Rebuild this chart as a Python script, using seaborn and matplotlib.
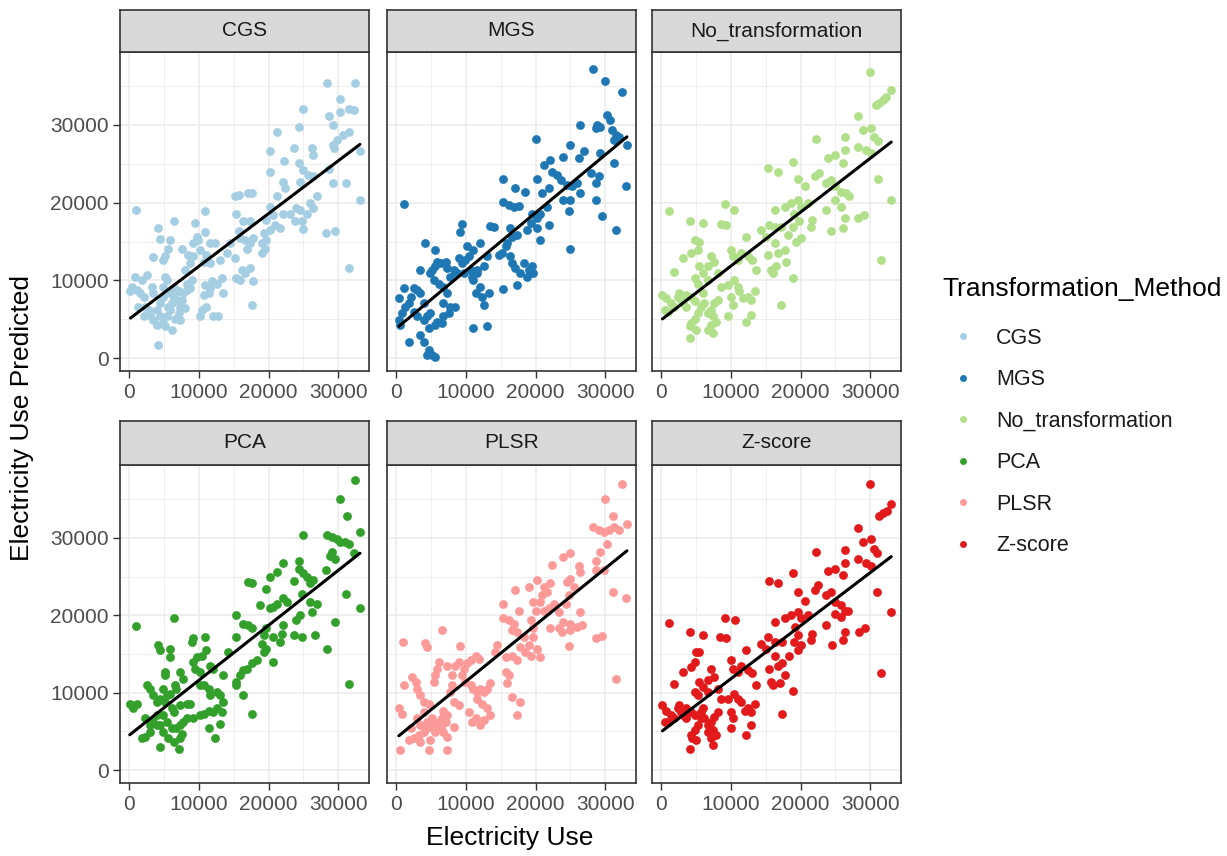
import numpy as np
import pandas as pd
import matplotlib
matplotlib.use("Agg")
import matplotlib.pyplot as plt
from matplotlib.lines import Line2D
from matplotlib.ticker import MultipleLocator
import seaborn as sns

sns.set_style("white")
plt.rcParams["font.family"] = ["Liberation Sans", "DejaVu Sans"]

methods = ["CGS", "MGS", "No_transformation", "PCA", "PLSR", "Z-score"]
palette = ["#A6CEE3", "#1F78B4", "#B2DF8A", "#33A02C", "#FB9A99", "#E31A1C"]

# (actual, predicted) electricity use for each transformation method
cgs_points = [
    (28400, 35400), (32400, 35400), (30200, 33300), (25000, 32100), (28700, 31200), (30300, 31700),
    (31500, 32100), (32200, 31900), (29200, 30000), (24300, 29800), (21200, 29100), (31500, 29100),
    (30700, 28700), (29800, 28100), (29300, 27400), (29400, 27000), (26200, 27000), (26400, 26100),
    (23600, 27000), (20200, 26600), (22200, 25400), (33100, 26600), (24300, 25100), (25000, 24200),
    (25700, 23600), (20200, 24000), (22100, 22700), (22400, 21900), (21200, 20800), (26400, 23400),
    (24500, 22700), (28600, 24400), (29300, 22600), (31100, 22600), (33100, 20400), (26900, 20800),
    (26000, 19900), (26400, 19300), (25500, 18600), (24000, 19300), (24500, 19100), (23100, 18600),
    (22100, 18600), (23800, 17600), (24800, 17600), (25000, 16600), (28300, 16100), (29500, 16300),
    (31500, 11600), (20200, 19500), (20700, 18400), (19700, 17800), (20900, 17100), (21700, 16700),
    (20200, 16500), (19300, 16100), (19700, 15200), (19000, 14800), (19500, 14100), (19000, 13500),
    (17800, 15400), (17400, 14800), (16900, 14100), (16600, 15200), (16400, 17600), (15700, 16400),
    (15400, 18600), (15200, 20900), (15700, 21000), (17100, 21200), (17600, 21200), (17400, 17600),
    (15900, 15400), (14500, 14800), (15200, 12900), (14000, 13500), (13000, 12600), (12300, 14800),
    (11600, 14800), (10900, 18900), (10900, 16200), (9700, 15600), (9200, 14800), (9500, 17400),
    (9900, 15200), (10200, 13900), (11100, 13300), (11600, 12200), (10700, 12400), (9200, 13200),
    (8700, 12300), (8500, 13300), (7600, 14000), (8000, 11400), (6400, 17700), (5900, 15200),
    (5600, 14100), (5200, 13100), (4900, 12600), (4200, 16700), (4400, 15300), (3400, 13000),
    (1000, 19100), (17800, 9900), (17400, 11600), (16600, 10900), (16200, 11400), (15400, 10300),
    (15900, 10100), (13300, 10300), (13500, 8400), (12600, 9600), (11900, 9900), (11600, 9000),
    (11400, 8400), (10900, 9400), (10700, 8100), (11100, 6600), (10400, 6200), (10200, 5400),
    (12100, 5400), (12800, 5400), (17600, 6800), (9000, 10100), (8700, 9000), (8300, 8800),
    (7800, 8400), (7600, 7500), (7300, 6600), (8000, 6400), (7100, 5800), (7300, 4900),
    (6800, 7500), (6400, 7900), (6100, 7100), (5600, 6600), (5400, 10100), (5200, 10500),
    (4900, 9200), (4900, 7900), (4400, 7100), (4000, 6200), (3500, 8400), (3300, 9200),
    (2500, 10700), (1800, 10100), (900, 10400), (400, 9200), (200, 8600), (1100, 8800),
    (1600, 8400), (2100, 7900), (2300, 6600), (2800, 6200), (3000, 5600), (3500, 4900),
    (4000, 4300), (4400, 5400), (4900, 4500), (5200, 4100), (6100, 3600), (4200, 1700),
    (2100, 5400), (1300, 6600), (5900, 6200), (6600, 5100), (5400, 5400), (6400, 9000),
    (7100, 8600), (8300, 9600), (5900, 8400),
]

mgs_points = [
    (28200, 37200), (30000, 35600), (32400, 34200), (30300, 31300), (30700, 30600), (26400, 30000),
    (28600, 29600), (29300, 29800), (28800, 30000), (31000, 29400), (31500, 28700), (31900, 28500),
    (33100, 27400), (31200, 28100), (20000, 28200), (25000, 27400), (24000, 25900), (26900, 26600),
    (26200, 25700), (29300, 26400), (31200, 25100), (21200, 24900), (22100, 25500), (22400, 24000),
    (23100, 23600), (23600, 22900), (20200, 23100), (15400, 23100), (17100, 21900), (18500, 21400),
    (20900, 21300), (21900, 21900), (24500, 22300), (25200, 22100), (26000, 22500), (26400, 21200),
    (27900, 23800), (29100, 23400), (28600, 22500), (32900, 22100), (24000, 20400), (25000, 20400),
    (24800, 18900), (28600, 20300), (29500, 18300), (31600, 16500), (24900, 14100), (15400, 20100),
    (16200, 19700), (16900, 19500), (17600, 19600), (19500, 18600), (20200, 18000), (20700, 18600),
    (21700, 19500), (21900, 17100), (19300, 17400), (18800, 16500), (20200, 16700), (20700, 15200),
    (17400, 15900), (16400, 16700), (16600, 15600), (15900, 14800), (15700, 14400), (14000, 16900),
    (13500, 17000), (9500, 17300), (9200, 16200), (12100, 14800), (14700, 13300), (15200, 13500),
    (16400, 13100), (16600, 12200), (17100, 11600), (17800, 10900), (17400, 9400), (15400, 8900),
    (18300, 12200), (19000, 11400), (19500, 11800), (19700, 10900), (18800, 10500), (13000, 13100),
    (12600, 11800), (11100, 13900), (10400, 13100), (10200, 14400), (9900, 12600), (9500, 12200),
    (9000, 12900), (11600, 10900), (11100, 10100), (11400, 8400), (12100, 9200), (12300, 7900),
    (12600, 6900), (13300, 8400), (11100, 3900), (13000, 4100), (10700, 11400), (9700, 10900),
    (8700, 10900), (8300, 11400), (7800, 10500), (7300, 11600), (7100, 12400), (6400, 12200),
    (5900, 12400), (5600, 11800), (5200, 11400), (5600, 13900), (4200, 14800), (3400, 11400),
    (4900, 10900), (5400, 10100), (6100, 9600), (6800, 9200), (7300, 8400), (6800, 7100),
    (7800, 6600), (8500, 6600), (7600, 5800), (6800, 5400), (6600, 4500), (5900, 4700),
    (5600, 4300), (4900, 5800), (4400, 5400), (4000, 7100), (3500, 8400), (3000, 8800),
    (2500, 9000), (2100, 7900), (1800, 7100), (1300, 6600), (900, 5800), (400, 4900),
    (600, 4300), (1100, 9000), (400, 7700), (2500, 6000), (3000, 5400), (4000, 4900),
    (4700, 3900), (1800, 2100), (3500, 3000), (4000, 2100), (4400, 400), (5200, 400),
    (5600, 200), (4700, 1100), (1100, 19800), (11600, 11400), (10900, 10500),
]

notrans_points = [
    (29900, 36800), (33000, 34500), (32300, 33600), (31800, 33200), (31300, 32800), (30800, 32600),
    (28300, 31200), (28900, 29400), (30100, 29600), (30600, 28500), (31100, 27900), (28200, 27200),
    (29400, 26800), (30100, 26400), (22200, 28200), (26300, 28400), (26300, 26800), (26100, 25100),
    (24900, 26100), (23900, 25700), (18900, 25200), (15300, 24500), (16700, 24000), (19600, 23100),
    (20600, 22100), (22000, 23400), (22700, 23800), (23700, 22500), (24400, 22900), (24900, 22100),
    (25800, 21400), (26500, 21200), (27000, 20800), (31100, 23000), (32900, 20400), (24900, 20400),
    (25800, 19500), (26300, 18000), (26100, 16700), (23700, 19100), (21700, 17800), (21500, 16900),
    (24400, 16300), (28200, 18000), (29100, 18400), (31500, 12600), (16300, 19100), (17700, 19500),
    (18600, 19900), (19600, 20400), (20100, 19500), (21000, 19900), (19100, 18600), (19800, 17600),
    (18900, 16900), (18200, 15900), (19400, 15000), (20100, 15400), (17200, 16900), (16300, 16900),
    (15500, 17100), (14300, 16500), (15100, 15600), (16300, 14800), (16700, 13500), (15300, 13300),
    (17700, 13900), (17900, 12400), (16500, 11800), (15800, 11400), (16000, 10900), (18900, 10300),
    (17200, 6900), (12200, 15600), (9100, 19800), (10500, 19100), (8600, 17300), (9300, 17100),
    (6000, 17400), (4100, 17700), (4800, 15200), (5500, 15000), (5300, 13900), (4300, 13500),
    (3100, 12900), (1900, 11100), (1100, 18900), (10000, 13900), (10300, 13100), (11000, 12600),
    (11500, 13500), (12400, 13100), (13100, 12600), (13600, 11400), (7200, 13100), (7600, 12400),
    (6700, 11800), (6000, 10900), (5500, 11800), (4800, 10300), (5300, 9600), (6700, 10100),
    (8100, 10900), (8600, 9200), (9600, 9400), (10500, 10100), (11000, 9200), (11200, 8600),
    (11700, 7700), (12400, 7900), (13400, 8600), (12900, 7500), (12900, 5600), (12200, 4700),
    (10000, 7900), (10300, 6900), (9600, 5400), (8100, 7500), (7600, 7100), (7200, 6200),
    (6700, 5800), (7400, 5400), (7900, 4700), (7200, 4300), (7400, 3200), (6700, 3600),
    (5700, 6600), (5300, 5800), (4800, 5100), (4300, 4500), (4100, 2600), (3600, 6600),
    (2900, 7500), (2400, 7900), (1900, 6600), (1400, 7100), (1000, 6000), (500, 6200),
    (200, 8100), (700, 7700), (2600, 8400), (3100, 7100), (3600, 8100), (4300, 7900),
    (4800, 7300), (6000, 8400), (6200, 7100), (4100, 4100), (5000, 3600),
]

pca_points = [
    (32400, 37500), (30200, 35000), (31300, 32800), (25000, 30400), (33100, 30700), (28400, 30400),
    (29100, 30100), (29800, 29900), (30300, 29500), (31000, 29400), (31500, 29200), (32200, 28000),
    (29100, 28200), (28800, 27700), (29500, 27300), (22100, 26800), (21200, 25600), (20200, 24900),
    (24300, 27000), (24300, 26000), (25000, 25400), (25500, 24900), (26400, 24500), (26000, 24100),
    (23600, 24400), (17100, 24300), (17600, 24200), (19700, 23400), (28300, 25800), (31100, 22800),
    (33100, 20900), (29500, 19100), (28400, 15600), (31500, 11100), (22100, 22200), (22600, 21700),
    (21200, 21500), (20700, 21100), (20200, 20900), (18800, 21300), (24800, 22800), (26000, 21700),
    (26900, 21500), (26200, 20400), (24500, 20000), (24000, 19400), (23600, 17400), (24800, 17200),
    (26700, 17400), (19700, 18300), (20700, 17200), (22100, 18700), (21900, 17600), (21700, 16600),
    (19300, 17400), (19000, 16300), (19700, 15700), (19300, 15300), (20700, 14000), (15400, 20000),
    (16400, 18900), (17100, 18700), (17600, 18300), (15400, 17200), (14200, 15300), (13500, 12300),
    (18300, 14200), (17600, 13800), (16900, 13100), (16400, 12900), (15900, 12300), (15400, 11400),
    (15400, 11000), (16400, 9700), (17600, 7200), (6400, 19600), (1000, 18600), (9200, 17100),
    (9000, 16600), (10900, 17200), (11100, 15500), (10400, 14800), (9700, 14600), (9200, 14000),
    (9500, 13100), (10200, 12700), (11600, 13500), (12100, 13100), (4200, 16100), (4400, 15500),
    (5900, 15700), (5900, 14600), (5200, 12700), (5200, 12300), (7300, 12700), (7800, 11800),
    (6600, 11000), (6800, 10500), (5900, 9900), (5400, 9700), (4900, 10500), (2500, 11000),
    (3000, 10500), (3500, 9700), (4000, 8800), (4400, 9200), (5200, 8800), (6100, 8000),
    (6400, 7500), (7300, 8400), (8300, 8600), (8700, 8600), (10200, 11000), (10700, 11000),
    (11400, 10500), (11600, 9700), (12600, 10100), (13000, 9700), (13500, 8800), (12600, 8000),
    (12100, 7500), (11400, 7700), (10700, 7300), (10200, 7100), (13300, 7500), (13000, 6000),
    (11400, 5400), (12300, 4100), (9200, 6700), (8300, 6700), (7800, 6200), (7300, 5800),
    (6800, 5400), (7600, 4700), (7300, 4100), (7100, 2800), (6400, 3700), (5600, 4100),
    (4900, 4900), (4400, 3000), (4000, 5800), (3500, 6200), (3000, 5800), (2300, 6700),
    (1800, 4100), (2300, 4300), (3000, 4900), (100, 8600), (600, 8000), (1100, 8600),
    (4000, 7100), (4900, 7100), (5400, 6200), (6100, 5400), (4400, 5800),
]

plsr_points = [
    (32400, 37000), (30000, 35000), (31100, 32800), (33100, 31800), (28300, 31400), (29100, 31000),
    (29800, 30700), (30500, 31000), (31200, 31400), (31900, 31000), (30300, 29200), (29300, 28200),
    (28600, 27000), (25000, 28000), (24000, 27500), (22400, 26500), (26200, 26400), (26400, 25600),
    (25000, 24700), (24500, 24300), (25500, 23700), (24800, 22600), (28600, 25800), (29800, 25800),
    (31100, 23000), (32900, 22200), (20200, 24500), (19000, 23700), (17100, 23300), (21200, 23700),
    (22100, 24100), (21700, 23000), (20900, 22600), (20700, 21700), (19700, 21700), (20000, 20600),
    (21200, 20600), (21900, 20900), (22600, 21500), (23300, 20400), (24300, 21500), (26400, 20400),
    (24000, 19100), (25000, 18900), (26000, 18500), (26700, 18700), (22100, 18300), (23300, 18300),
    (23800, 17800), (25000, 18100), (24800, 16000), (28600, 17100), (29500, 17300), (31600, 11800),
    (15400, 21400), (17600, 20600), (15400, 19600), (16200, 19400), (16900, 18900), (16600, 18100),
    (17400, 17800), (19300, 19400), (19700, 18300), (19700, 17200), (18300, 17200), (17800, 15900),
    (18500, 15300), (19300, 14800), (20700, 14600), (20200, 15700), (19000, 16100), (17400, 14200),
    (16600, 14800), (15700, 14600), (14500, 16100), (14200, 15300), (15700, 12700), (16200, 12300),
    (15900, 11200), (16600, 9500), (17800, 8800), (17400, 7100), (6600, 18100), (1000, 16500),
    (4200, 16400), (4400, 15900), (9200, 16000), (11400, 14800), (11900, 14400), (10700, 14200),
    (10200, 13800), (9700, 13100), (9000, 14000), (8500, 13500), (7300, 13500), (6100, 14000),
    (5900, 13100), (5600, 12300), (5400, 11400), (2300, 12000), (2800, 11400), (3000, 10500),
    (3500, 9700), (4000, 8800), (4700, 8600), (1100, 11000), (8000, 12300), (9500, 12300),
    (9900, 11400), (8000, 11000), (7800, 10100), (8300, 8800), (9000, 8400), (13500, 11200),
    (13000, 10500), (12600, 10100), (12100, 10500), (11600, 10100), (11100, 10500), (10700, 11000),
    (11600, 9200), (12300, 8600), (13000, 8000), (13500, 7100), (12600, 6500), (12100, 5800),
    (11400, 6700), (10900, 6200), (10400, 7500), (400, 8000), (900, 7300), (6800, 7700),
    (7300, 7100), (6600, 6700), (6100, 6200), (5600, 5800), (5200, 5600), (4400, 5400),
    (4000, 4900), (3300, 4500), (2500, 4100), (1800, 3900), (3500, 3700), (4900, 3900),
    (5600, 4900), (6800, 4900), (7300, 4300), (6400, 5600), (5200, 6700), (4400, 6200),
    (3500, 5800), (3000, 6700), (4000, 7500), (2100, 5400), (600, 2600), (4700, 2600),
    (7300, 2600), (8300, 5600), (7100, 6200),
]

zscore_points = [
    (29900, 37000), (33000, 34400), (32400, 33500), (31800, 33200), (31200, 32800), (28300, 31300),
    (28900, 29500), (30100, 29800), (30600, 28600), (31000, 28000), (28200, 27200), (29400, 26800),
    (30100, 26400), (22200, 28200), (26300, 28400), (26300, 26800), (26100, 25200), (24900, 26000),
    (23900, 25700), (18900, 25400), (15500, 24400), (16700, 24200), (19600, 23000), (20600, 21900),
    (22000, 23200), (22500, 23900), (23700, 22600), (24400, 23000), (24900, 21700), (25800, 21300),
    (26300, 20600), (26800, 20600), (31000, 23000), (32900, 20400), (24900, 20200), (25800, 19800),
    (26300, 17800), (26100, 16800), (23700, 18800), (21700, 17600), (21500, 16800), (24500, 16200),
    (28400, 17900), (29200, 18400), (31500, 12500), (16300, 19100), (17700, 19700), (18600, 20000),
    (19600, 20400), (20100, 19600), (21000, 20000), (19200, 18500), (19600, 17400), (19100, 16600),
    (18400, 14800), (19600, 15500), (20100, 16100), (17400, 16600), (16300, 16600), (15300, 17200),
    (14300, 16300), (15100, 15700), (16300, 14800), (16700, 13500), (15500, 13100), (17400, 13800),
    (17700, 12300), (15800, 11400), (16000, 11000), (17000, 11200), (18900, 10200), (17300, 7200),
    (12200, 15500), (9100, 19700), (10600, 19400), (8500, 17200), (9300, 17000), (6000, 17400),
    (4200, 17800), (5000, 15300), (5500, 15300), (4800, 14000), (4300, 13300), (3100, 12700),
    (1900, 11100), (1100, 19000), (10000, 14200), (10300, 13100), (11000, 12700), (11500, 13500),
    (12400, 12900), (13100, 12500), (13600, 11000), (7200, 13100), (7600, 12000), (6700, 11600),
    (6000, 10800), (5500, 11400), (4800, 10100), (5300, 9700), (6700, 10100), (8100, 10500),
    (8600, 9200), (9600, 9200), (10500, 9900), (11000, 9200), (11500, 8800), (12000, 7700),
    (12400, 8000), (13400, 8600), (12900, 7500), (12900, 5800), (12200, 4600), (10000, 7500),
    (10300, 6700), (10000, 5500), (8100, 7500), (7600, 6900), (7200, 6200), (6700, 5800),
    (7400, 5200), (7900, 4500), (7200, 4100), (7400, 3200), (4100, 2700), (5700, 6700),
    (5300, 5800), (4800, 5200), (4300, 4500), (3600, 6700), (2900, 7500), (2400, 8000),
    (1900, 6700), (1400, 7100), (1000, 6200), (500, 6200), (200, 8400), (700, 7700),
    (2600, 8400), (3100, 7100), (3600, 8000), (4300, 7500), (4800, 7100), (6000, 8000),
    (6200, 6700), (4500, 4100), (5000, 3900), (6700, 4900), (5700, 7500),
]

point_sets = [cgs_points, mgs_points, notrans_points, pca_points, plsr_points, zscore_points]

frames = []
for name, pts in zip(methods, point_sets):
    arr = np.array(pts, dtype=float)
    frames.append(pd.DataFrame({"Electricity_Use": arr[:, 0],
                                "Electricity_Use_Predicted": arr[:, 1],
                                "Transformation_Method": name}))
data = pd.concat(frames, ignore_index=True)

W, H = 1227, 856
fig = plt.figure(figsize=(W / 100, H / 100), dpi=100)

col_left = [120, 387, 652]
panel_w = 249
rows = [(10, 52, 371), (421, 465, 783)]  # strip top, panel top, panel bottom (pixels)

border = "#333333"
grid_c = "#EBEBEB"
tick_c = "#4D4D4D"

for i, (name, color) in enumerate(zip(methods, palette)):
    r, c = divmod(i, 3)
    s_top, p_top, p_bot = rows[r]
    left = col_left[c]
    ax = fig.add_axes([left / W, 1 - p_bot / H, panel_w / W, (p_bot - p_top) / H])
    sub = data[data["Transformation_Method"] == name]
    sns.scatterplot(data=sub, x="Electricity_Use", y="Electricity_Use_Predicted",
                    color=color, s=40, linewidth=0, ax=ax, zorder=2)
    sns.regplot(data=sub, x="Electricity_Use", y="Electricity_Use_Predicted",
                scatter=False, ci=None, color="black", ax=ax,
                line_kws={"lw": 2.2, "zorder": 3})
    ax.set_xlim(-1300, 34400)
    ax.set_ylim(-1650, 39390)
    ax.xaxis.set_major_locator(MultipleLocator(10000))
    ax.xaxis.set_minor_locator(MultipleLocator(5000))
    ax.yaxis.set_major_locator(MultipleLocator(10000))
    ax.yaxis.set_minor_locator(MultipleLocator(5000))
    ax.set_axisbelow(True)
    ax.grid(which="major", color=grid_c, lw=1.1)
    ax.grid(which="minor", color=grid_c, lw=0.6)
    ax.set_xlabel("")
    ax.set_ylabel("")
    for sp in ax.spines.values():
        sp.set_color(border)
        sp.set_linewidth(1.2)
    ax.tick_params(which="minor", length=0)
    ax.tick_params(axis="x", which="major", direction="out", length=5, width=1.0,
                   color=border, labelcolor=tick_c, labelsize=15, pad=4, bottom=True)
    if c == 0:
        ax.tick_params(axis="y", which="major", direction="out", length=5, width=1.0,
                       color=border, labelcolor=tick_c, labelsize=15, pad=3, left=True)
    else:
        ax.tick_params(axis="y", which="major", length=0, labelleft=False)

    # facet strip
    sax = fig.add_axes([left / W, 1 - p_top / H, panel_w / W, (p_top - s_top) / H])
    sax.set_facecolor("#D9D9D9")
    sax.set_xticks([])
    sax.set_yticks([])
    for sp in sax.spines.values():
        sp.set_color(border)
        sp.set_linewidth(1.2)
    sax.text(0.5, 0.5, name, ha="center", va="center", fontsize=15,
             color="#1A1A1A", transform=sax.transAxes)

fig.text(510 / W, 1 - 838 / H, "Electricity Use", ha="center", va="center",
         fontsize=19, color="black")
fig.text(22 / W, 1 - 418 / H, "Electricity Use Predicted", ha="center", va="center",
         rotation=90, fontsize=19, color="black")

# legend
fig.text(942 / W, 1 - 289 / H, "Transformation_Method", ha="left", va="center",
         fontsize=19, color="black")
handles = [Line2D([], [], marker="o", linestyle="", markersize=5,
                  markerfacecolor=col, markeredgewidth=0) for col in palette]
fig.legend(handles, methods, loc="upper left",
           bbox_to_anchor=(952 / W, 1 - 328 / H), frameon=False,
           fontsize=15.5, labelspacing=0.95, handlelength=1.0,
           handletextpad=1.05, borderpad=0, borderaxespad=0,
           labelcolor="#1A1A1A")

fig.savefig("out.png", dpi=100, facecolor="white")
